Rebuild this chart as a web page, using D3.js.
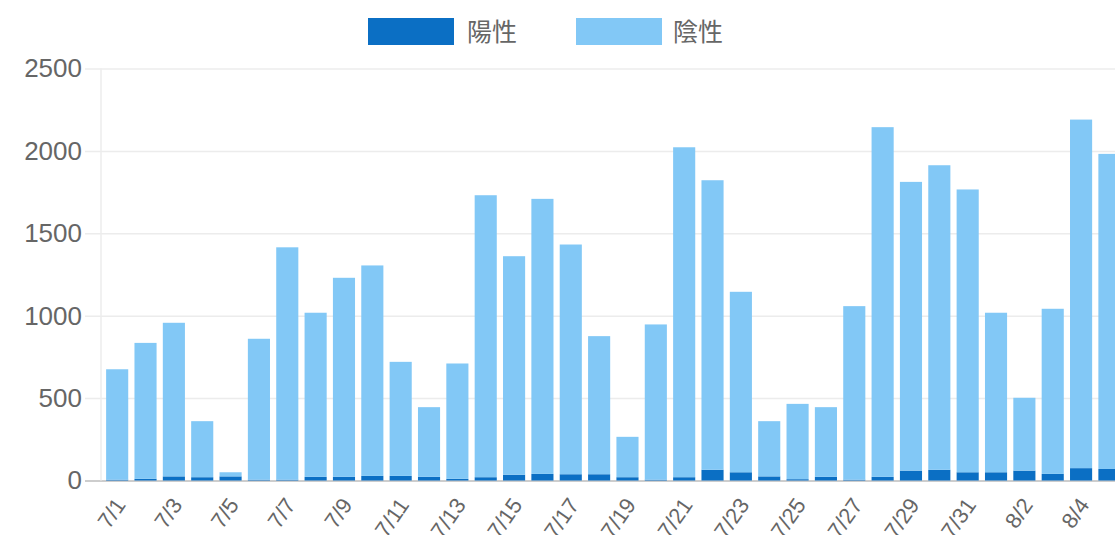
<!DOCTYPE html>
<html>
<head>
<meta charset="utf-8">
<script src="https://cdn.jsdelivr.net/npm/d3@7"></script>
<style>
  html, body { margin: 0; padding: 0; background: #fff; overflow: hidden; }
  svg { display: block; }
  text { font-family: "Liberation Sans", Arial, "Noto Sans CJK JP", sans-serif; fill: #666; }
</style>
</head>
<body>
<svg id="chart" width="1115" height="535"></svg>
<script>
// Daily test counts, 7/1 – 8/5
const dates = ["7/1","7/2","7/3","7/4","7/5","7/6","7/7","7/8","7/9","7/10",
  "7/11","7/12","7/13","7/14","7/15","7/16","7/17","7/18","7/19","7/20",
  "7/21","7/22","7/23","7/24","7/25","7/26","7/27","7/28","7/29","7/30",
  "7/31","8/1","8/2","8/3","8/4","8/5"];

// 陽性 (positive)
const positive = [5,10,25,20,25,5,5,22,22,28,
  28,22,10,20,35,40,38,38,20,5,
  20,65,50,25,8,22,5,22,60,65,
  50,50,60,40,75,70];

// 陰性 (negative)
const negative = [670,825,932,340,25,855,1410,996,1208,1277,
  692,423,700,1711,1326,1669,1394,838,245,942,
  2002,1757,1095,335,457,423,1053,2122,1752,1848,
  1716,968,442,1002,2115,1912];

const yTicks = [0, 500, 1000, 1500, 2000, 2500];
const seriesNames = ["陽性", "陰性"];
const seriesColors = ["#0b6fc4", "#82c8f6"];

const svg = d3.select("#chart");

const axisX = 101;
const step = 28.35;
const x = d3.scaleBand()
  .domain(dates)
  .range([axisX + 2, axisX + 2 + dates.length * step])
  .paddingInner(0.22)
  .paddingOuter(0.11);

const y = d3.scaleLinear().domain([0, 2500]).range([480.5, 68.5]);

// Horizontal grid lines with tick labels
const yAxis = d3.axisLeft(y)
  .tickValues(yTicks)
  .tickSize(-(1115 - axisX))
  .tickPadding(10)
  .tickFormat(d3.format("d"));

const gy = svg.append("g")
  .attr("transform", `translate(${axisX},0)`)
  .call(yAxis);
gy.select(".domain").remove();
gy.selectAll(".tick line")
  .attr("x1", -16)
  .attr("stroke", d => d === 0 ? "#bdbdbd" : "#ececec")
  .attr("stroke-width", 1.5);
gy.selectAll(".tick text")
  .attr("x", -19)
  .style("font-size", "26px")
  .attr("fill", "#808080");

// Vertical axis line
svg.append("line")
  .attr("x1", axisX).attr("x2", axisX)
  .attr("y1", y(2500)).attr("y2", y(0))
  .attr("stroke", "#ececec").attr("stroke-width", 1.5);

// Stacked bars
const rows = dates.map((d, i) => ({ date: d, "陽性": positive[i], "陰性": negative[i] }));
const stacked = d3.stack().keys(seriesNames)(rows);

svg.append("g").selectAll("g")
  .data(stacked)
  .join("g")
  .attr("fill", (s, i) => seriesColors[i])
  .selectAll("rect")
  .data(s => s)
  .join("rect")
  .attr("x", d => x(d.data.date))
  .attr("width", x.bandwidth())
  .attr("y", d => y(d[1]))
  .attr("height", d => y(d[0]) - y(d[1]));

// X tick labels (every other date), rotated
const xAxis = d3.axisBottom(x)
  .tickValues(dates.filter((d, i) => i % 2 === 0))
  .tickSize(0)
  .tickPadding(0);
const gx = svg.append("g")
  .attr("transform", `translate(0,${y(0)})`)
  .call(xAxis);
gx.select(".domain").remove();
gx.selectAll(".tick text")
  .style("font-size", "22px")
  .attr("fill", "#999")
  .attr("text-anchor", "end")
  .attr("dy", "0.35em")
  .attr("transform", "translate(3,20) rotate(-55)");

// Legend
const legend = svg.append("g");
const legendItems = [
  { name: seriesNames[0], color: seriesColors[0], bx: 368, tx: 467 },
  { name: seriesNames[1], color: seriesColors[1], bx: 576, tx: 673 }
];
legendItems.forEach(item => {
  legend.append("rect")
    .attr("x", item.bx).attr("y", 18)
    .attr("width", 86).attr("height", 27)
    .attr("fill", item.color);
  legend.append("text")
    .attr("x", item.tx).attr("y", 32)
    .attr("dy", "0.35em")
    .style("font-size", "25px")
    .style("font-family", "'Noto Sans CJK JP', sans-serif")
    .attr("fill", "#808080")
    .text(item.name);
});
</script>
</body>
</html>
